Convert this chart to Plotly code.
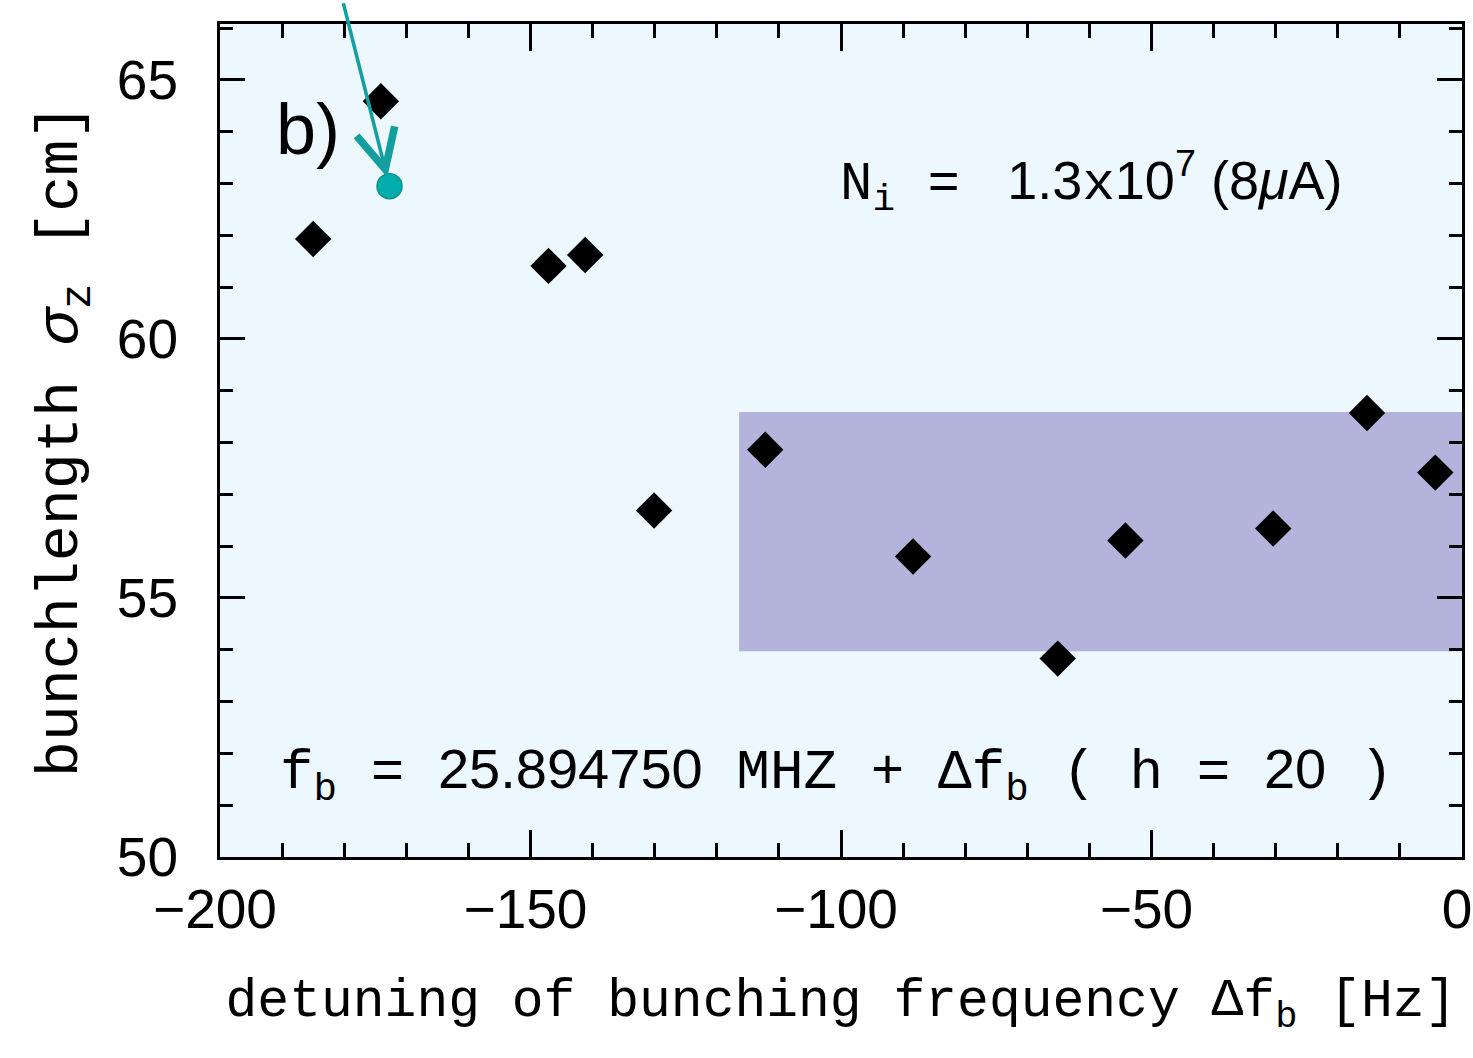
import plotly.graph_objects as go

# data
detuning_hz = [-185.0, -174.1, -147.1, -141.2, -130.1, -112.2, -88.4, -65.1, -54.2, -30.4, -15.3, -4.3]
bunchlength_cm = [61.93, 64.59, 61.41, 61.62, 56.69, 57.86, 55.80, 53.83, 56.11, 56.34, 58.57, 57.42]

highlight_x = [-172.7]
highlight_y = [62.95]
arrow_tail = (-180.2, 66.51)

band_x = [-116.4, 0.0]
band_y = [53.97, 58.59]

x_ticks = [-200, -150, -100, -50, 0]
y_ticks = [50, 55, 60, 65]
x_range = [-200, 0]
y_range = [50, 66.08]

MONO = "Liberation Mono"
SANS = "Liberation Sans"
TEAL = "#139f9f"

fig = go.Figure()

fig.add_trace(go.Scatter(
    x=detuning_hz, y=bunchlength_cm, mode="markers",
    marker=dict(symbol="diamond", size=28, color="black", line=dict(width=0)),
    showlegend=False,
))
fig.add_trace(go.Scatter(
    x=highlight_x, y=highlight_y, mode="markers",
    marker=dict(symbol="circle", size=25, color="#00adad", line=dict(width=1.5, color="#0e9090")),
    showlegend=False, cliponaxis=False,
))

fig.add_shape(type="rect", xref="x", yref="y",
              x0=band_x[0], x1=band_x[1], y0=band_y[0], y1=band_y[1],
              fillcolor="#b3b3dc", line=dict(width=0), layer="below")

fig.add_annotation(x=highlight_x[0], y=highlight_y[0], ax=arrow_tail[0], ay=arrow_tail[1],
                   axref="x", ayref="y", xref="x", yref="y", text="",
                   showarrow=True, arrowhead=5, arrowsize=2.2, arrowwidth=3.5,
                   arrowcolor=TEAL, standoff=9)

fig.add_annotation(x=-185.9, y=64.05, xref="x", yref="y", text="b)", showarrow=False,
                   font=dict(family=SANS, size=72, color="black"))

def mono(s):
    return f'<span style="font-family:{MONO}">{s}</span>'

ni_text = (mono("N<sub>i</sub> = ") + " 1.3" + mono("x") + "10<sup>7</sup> (8<i>μ</i>A)")
fig.add_annotation(x=-59.6, y=63.04, xref="x", yref="y", text=ni_text, showarrow=False,
                   font=dict(family=SANS, size=54, color="black"))

fb_text = (mono("f<sub>b</sub> = ") + "25.894750" + mono(" MHZ + Δf<sub>b</sub> ( h = ") + "20" + mono(" )"))
fig.add_annotation(x=-100.8, y=51.6, xref="x", yref="y", text=fb_text, showarrow=False,
                   font=dict(family=SANS, size=56, color="black"))

common = dict(showline=True, linecolor="black", linewidth=3, mirror="ticks",
              ticks="inside", tickwidth=3, tickcolor="black", showgrid=False,
              zeroline=False)

fig.update_xaxes(range=x_range, tickvals=x_ticks, ticklen=27,
                 minor=dict(dtick=10, ticks="inside", ticklen=14, tickwidth=3, tickcolor="black", showgrid=False),
                 tickfont=dict(family=SANS, size=55, color="black"), ticklabelstandoff=2,
                 ticklabelshift=-5, ticklabeloverflow="allow",
                 title=dict(text="detuning of bunching frequency Δf<sub>b</sub> [Hz]",
                            font=dict(family=MONO, size=53, color="black"), standoff=40),
                 **common)
fig.update_yaxes(range=y_range, tickvals=y_ticks, ticklen=25,
                 minor=dict(dtick=1, ticks="inside", ticklen=13, tickwidth=3, tickcolor="black", showgrid=False),
                 tickfont=dict(family=SANS, size=55, color="black"), ticklabelstandoff=28,
                 title=dict(text="bunchlength <i>σ</i><sub>z</sub> [cm]",
                            font=dict(family=MONO, size=60, color="black"), standoff=20),
                 **common)

fig.update_layout(width=1473, height=1058,
                  margin=dict(l=220, r=11, t=24, b=201, autoexpand=False),
                  plot_bgcolor="#edf7fe", paper_bgcolor="white", showlegend=False)

fig.write_html("out.html")
